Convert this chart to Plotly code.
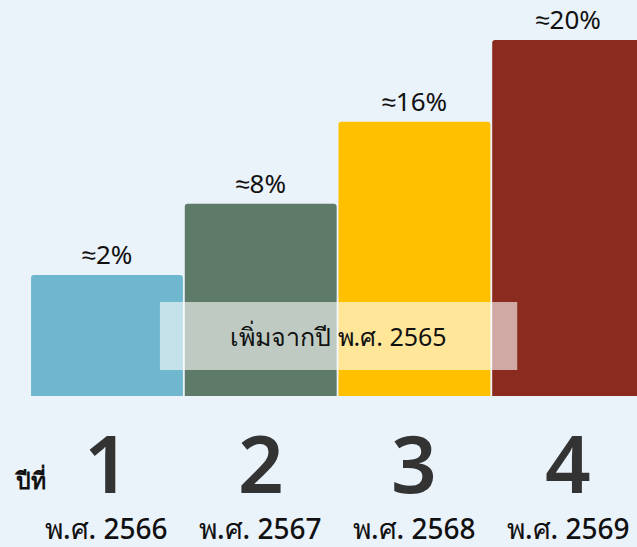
import plotly.graph_objects as go

# values
years = [1, 2, 3, 4]
year_labels = ["พ.ศ. 2566", "พ.ศ. 2567", "พ.ศ. 2568", "พ.ศ. 2569"]
bar_text = ["≈2%", "≈8%", "≈16%", "≈20%"]
# drawn heights (relative, as shown in the infographic)
bar_heights = [3.4, 5.4, 7.7, 10.0]
colors = ["#6FB7CE", "#5E7A68", "#FFC000", "#8B2A1E"]

FONT = "Noto Sans, Tahoma, sans-serif"

fig = go.Figure()
fig.add_trace(go.Bar(
    x=years,
    y=bar_heights,
    text=bar_text,
    textposition="outside",
    textfont=dict(size=26, color="#111111", family=FONT),
    marker=dict(color=colors, cornerradius=3, line=dict(width=0)),
    cliponaxis=False,
    hoverinfo="none",
))

# big year numbers and Buddhist-era year under each bar
for yr, lbl in zip(years, year_labels):
    fig.add_annotation(x=yr, y=-1.85, text=str(yr), showarrow=False,
                       font=dict(size=80, color="#333333", family=FONT, weight=600),
                       xanchor="center", yanchor="middle")
    fig.add_annotation(x=yr, y=-3.72, text=lbl, showarrow=False,
                       font=dict(size=28, color="#111111", family=FONT, weight=500),
                       xanchor="center", yanchor="middle")

fig.add_annotation(x=0.0, xref="paper", xanchor="left", xshift=12,
                   y=-2.35, text="<b>ปีที่</b>", showarrow=False,
                   font=dict(size=23, color="#111111", family=FONT))

# translucent note box
fig.add_shape(type="rect", xref="paper", yref="y",
              x0=0.251, x1=0.812, y0=0.73, y1=2.64,
              fillcolor="rgba(255,255,255,0.6)", line=dict(width=0), layer="above")
fig.add_annotation(x=0.531, xref="paper", y=1.68, text="เพิ่มจากปี พ.ศ. 2565",
                   showarrow=False, font=dict(size=25, color="#111111", family=FONT))

fig.update_layout(
    width=637, height=547,
    margin=dict(l=0, r=0, t=0, b=0),
    paper_bgcolor="#EAF2FA",
    plot_bgcolor="#EAF2FA",
    bargap=0.012,
    showlegend=False,
    font=dict(family=FONT),
    xaxis=dict(range=[0.304, 4.448], visible=False, fixedrange=True),
    yaxis=dict(range=[-4.24, 11.12], visible=False, fixedrange=True),
)

fig.write_html("out.html", config={"displayModeBar": False},
               post_script="document.body.style.margin='0';document.body.style.background='#EAF2FA';")
